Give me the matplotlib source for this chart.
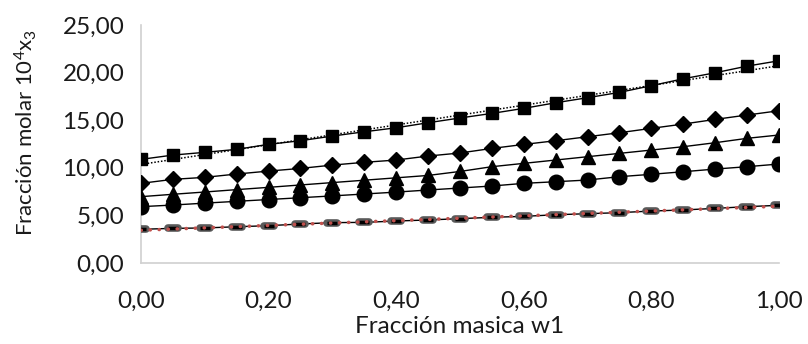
import numpy as np
import matplotlib
matplotlib.use("Agg")
import matplotlib.pyplot as plt
from matplotlib.ticker import FuncFormatter
from matplotlib.markers import MarkerStyle

# =========================
# DATOS
# =========================
w1 = [0.00, 0.05, 0.10, 0.15, 0.20, 0.25, 0.30, 0.35, 0.40, 0.45, 0.50,
      0.55, 0.60, 0.65, 0.70, 0.75, 0.80, 0.85, 0.90, 0.95, 1.00]

cuadrados = [10.89, 11.34, 11.63, 11.94, 12.47, 12.85, 13.34, 13.79, 14.21, 14.74, 15.24,
             15.72, 16.25, 16.84, 17.37, 17.93, 18.63, 19.36, 19.99, 20.69, 21.25]
rombos = [8.37, 8.79, 9.00, 9.35, 9.66, 9.94, 10.29, 10.58, 10.82, 11.24, 11.56,
          12.04, 12.46, 12.85, 13.27, 13.69, 14.15, 14.60, 15.09, 15.55, 16.00]
triangulos = [6.97, 7.22, 7.46, 7.71, 7.95, 8.20, 8.45, 8.70, 8.95, 9.20, 9.62,
              10.12, 10.47, 10.82, 11.17, 11.52, 11.87, 12.22, 12.64, 13.10, 13.45]
circulos = [5.92, 6.09, 6.29, 6.48, 6.67, 6.86, 7.05, 7.25, 7.45, 7.67, 7.88,
            8.09, 8.37, 8.54, 8.72, 9.07, 9.32, 9.59, 9.87, 10.12, 10.40]
guiones = [3.54, 3.64, 3.68, 3.81, 3.92, 4.10, 4.24, 4.27, 4.41, 4.52, 4.66,
           4.80, 4.90, 5.07, 5.18, 5.29, 5.46, 5.57, 5.74, 5.92, 6.06]

x_ticks = [0.0, 0.2, 0.4, 0.6, 0.8, 1.0]
y_ticks = [0, 5, 10, 15, 20, 25]

# =========================
# CONFIGURACIÓN
# =========================
plt.rcParams["font.family"] = ["Lato", "DejaVu Sans"]
plt.rcParams["mathtext.fontset"] = "custom"
plt.rcParams["mathtext.rm"] = "Lato"
plt.rcParams["mathtext.it"] = "Lato"

fig = plt.figure(figsize=(8.08, 3.44), dpi=100)
ax = fig.add_axes([0.1745, 0.2355, 0.7895, 0.6915])

x = np.array(w1)
col_txt = "#1a1a1a"

# linea de tendencia (punteada) para la serie de cuadrados
p = np.polyfit(x, cuadrados, 1)
ax.plot(x, np.polyval(p, x), color="black", linestyle=(0, (1, 1.2)), linewidth=1.1, zorder=2)

ax.plot(x, cuadrados, color="black", linewidth=1.0, marker="s", markersize=8.5, zorder=3)
ax.plot(x, rombos, color="black", linewidth=1.0, marker="D", markersize=8.5, zorder=3)
ax.plot(x, triangulos, color="black", linewidth=1.0, marker="^", markersize=10.5, zorder=3)
ax.plot(x, circulos, color="black", linewidth=1.0, marker="o", markersize=10.5, zorder=3)

# serie inferior con marcador tipo guion
guion_ext = MarkerStyle("_", capstyle="round")
ax.plot(x, guiones, color="black", linewidth=1.0, zorder=3)
ax.plot(x, guiones, linestyle="none", marker=guion_ext, markersize=7,
        markeredgewidth=5.5, color="#5a5a5a", zorder=4)
ax.plot(x, guiones, linestyle="none", marker="_", markersize=6.5,
        markeredgewidth=2.5, color="black", zorder=5)
p2 = np.polyfit(x, guiones, 1)
ax.plot(x, np.polyval(p2, x), color="#c0504d", linestyle=(0, (0.1, 2.5)),
        linewidth=2.5, dash_capstyle="round", zorder=6)

# =========================
# EJES
# =========================
ax.set_xlim(0, 1)
ax.set_ylim(0, 25)
ax.set_xticks(x_ticks)
ax.set_yticks(y_ticks)
fmt = FuncFormatter(lambda v, pos: f"{v:.2f}".replace(".", ","))
ax.xaxis.set_major_formatter(fmt)
ax.yaxis.set_major_formatter(fmt)
ax.tick_params(length=0, labelsize=17.5, colors=col_txt)
ax.tick_params(axis="y", pad=12)
ax.tick_params(axis="x", pad=20)

for s in ["top", "right"]:
    ax.spines[s].set_visible(False)
for s in ["left", "bottom"]:
    ax.spines[s].set_color("#d0d0d0")
    ax.spines[s].set_linewidth(1.2)

ax.set_xlabel("Fracción masica w1", fontsize=17.5, color=col_txt, labelpad=3)
ax.set_ylabel(r"Fracción molar 10$^{4}$x$_{3}$", fontsize=16, color=col_txt)
ax.yaxis.set_label_coords(-0.16, 0.55)

fig.savefig("out.png", dpi=100)
